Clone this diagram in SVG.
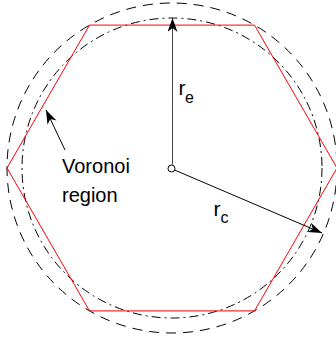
<svg xmlns="http://www.w3.org/2000/svg" width="336" height="339" viewBox="0 0 336 339">
<defs>
<style>
.circ{fill:none;stroke:#000;stroke-width:1}
.dash{stroke-dasharray:10 7}
.dashdot{stroke-dasharray:9 4 2 4}
.hex{fill:none;stroke:#ff0000;stroke-width:1}
.lbl{font-family:"Liberation Sans",Arial,sans-serif;fill:#000}
.arr{stroke:#000;stroke-width:1;fill:none}
</style>
<marker id="ah" viewBox="0 0 14 10" refX="14" refY="5" markerWidth="14" markerHeight="10" markerUnits="userSpaceOnUse" orient="auto">
<path d="M0,0 L14,5 L0,10 L4,5 Z" fill="#000"/>
</marker>
</defs>
<rect width="336" height="339" fill="#fff"/>
<g id="circumcircle"><circle class="circ dash" cx="172" cy="168" r="165"/></g>
<g id="equivalent-circle"><circle class="circ dashdot" cx="172" cy="168" r="150"/></g>
<g id="voronoi-hexagon"><polygon class="hex" points="7,168 89.5,25.1 254.5,25.1 337,168 254.5,310.9 89.5,310.9"/></g>
<g id="connectors">
<line class="arr" x1="172.5" y1="164.5" x2="172.5" y2="18" style="stroke:#444" marker-end="url(#ah)"/>
<line class="arr" x1="174.5" y1="170" x2="322" y2="233" marker-end="url(#ah)"/>
<line class="arr" x1="65" y1="150" x2="46" y2="110" marker-end="url(#ah)"/>
</g>
<g id="center"><circle cx="171.5" cy="168.5" r="3.5" fill="#fff" stroke="#000" stroke-width="1"/></g>
<g id="label-re"><text class="lbl" x="178.5" y="94.5" font-size="21">r</text><text class="lbl" x="185" y="102.5" font-size="16">e</text></g>
<g id="label-rc"><text class="lbl" x="213.5" y="215.5" font-size="21">r</text><text class="lbl" x="220.5" y="222.5" font-size="16">c</text></g>
<g id="label-voronoi"><text class="lbl" x="62" y="172.5" font-size="20">Voronoi</text><text class="lbl" x="62" y="201.5" font-size="20">region</text></g>
</svg>
